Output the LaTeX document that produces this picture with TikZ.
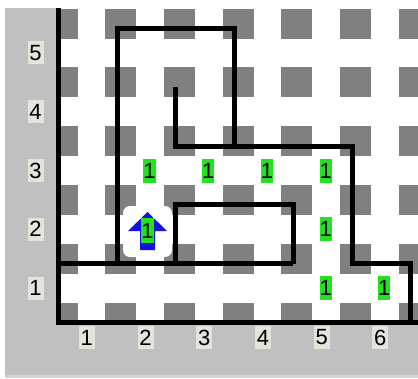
\documentclass[tikz,border=0pt]{standalone}
\usepackage{fontspec}
\setmainfont{Liberation Sans}
\definecolor{panel}{RGB}{192,192,192}
\definecolor{panelbot}{RGB}{212,212,212}
\definecolor{sq}{RGB}{128,128,128}
\definecolor{lblbg}{RGB}{228,228,220}
\definecolor{cellgreen}{RGB}{34,226,34}
\definecolor{arrowblue}{RGB}{18,18,228}
\begin{document}
\begin{tikzpicture}[x=1pt,y=-1pt,
  wall/.style={line width=5pt, line join=miter},
  axislbl/.style={fill=lblbg, inner sep=0pt, minimum width=16pt, minimum height=23pt,
    font=\fontsize{22}{22}\selectfont},
  onebox/.style={fill=cellgreen, inner sep=0pt, minimum width=12pt, minimum height=24pt,
    font=\fontsize{22}{22}\selectfont}]
\useasboundingbox (0,0) rectangle (418,378);
\fill[white] (0,0) rectangle (418,378);
\fill[panel] (5,8) rectangle (418,375);
\fill[panelbot] (5,375) rectangle (418,378);
\fill[white] (58.5,8) rectangle (418,322.5);
% intersection markers
\begin{scope}
  \clip (58.5,8) rectangle (418,322.5);
  \foreach \i in {0,...,6} \foreach \j in {0,...,5} {
    \fill[sq] ({58.5+58.7*\i-12},{322.5-58.8*\j-20}) rectangle ++(31,30);
  }
\end{scope}
% grid coordinates
\foreach \i in {0,...,6} \foreach \j in {0,...,5} {
  \coordinate (p\i\j) at ({58.5+58.7*\i},{322.5-58.8*\j});
}
\coordinate (btop) at (58.5,8);
\coordinate (bright) at (418,322.5);
% robot with halo
\fill[white, rounded corners=7pt] (123,206) rectangle (172,257);
\fill[arrowblue] (147.5,212) -- (167,231) -- (155,231) -- (155,250) -- (140,250)
  -- (140,231) -- (128,231) -- cycle;
\node[onebox, minimum width=9pt, minimum height=25pt] (robot) at (147.5,230.5) {1};
% walls
\draw[wall] (btop) -- (p00) -- (bright);
\draw[wall] (p01) -- (p41);
\draw[wall] (p21) -- (p22) -- (p42) -- (p41);
\draw[wall] (p11) -- (p15) -- (p35) -- (p33);
\draw[wall] (p24) -- (p23) -- (p53) -- (p51) -- (p61) -- (p60);
% axis labels
\foreach \r in {1,...,5} {
  \node[axislbl] (row\r) at (35.5,{322.5-58.8*(\r-0.5)-5}) {\r};
}
\foreach \c in {1,...,6} {
  \node[axislbl] (col\c) at ({58.5+58.7*(\c-0.5)-1},337.5) {\c};
}
% beepers
\foreach \c/\r in {2/3,3/3,4/3,5/3,5/2,5/1,6/1} {
  \node[onebox] (b\c\r) at ({58.5+58.7*(\c-0.5)+3},{322.5-58.8*(\r-0.5)-5}) {1};
}
\end{tikzpicture}
\end{document}
